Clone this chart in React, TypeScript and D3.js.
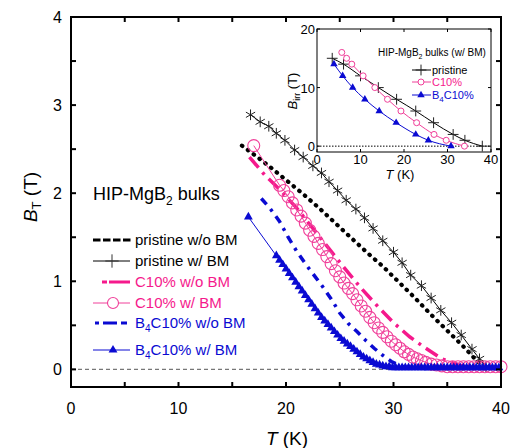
import React from 'react';
import * as d3 from 'd3';

// main panel: B_T vs T, [T (K), B (T)]
const pristineNoBM: [number, number][] = [
  [15.9, 2.54], [17.0, 2.44], [18.5, 2.3], [20.0, 2.15], [21.5, 2.0], [23.0, 1.84],
  [24.5, 1.67], [26.0, 1.5], [27.5, 1.33], [29.0, 1.17], [30.5, 0.99], [32.0, 0.81],
  [33.5, 0.62], [35.0, 0.44], [36.5, 0.26], [37.5, 0.13], [38.3, 0.04], [39.0, 0.0],
];
const pristineBM: [number, number][] = [
  [16.7, 2.89], [17.6, 2.81], [18.4, 2.76], [19.1, 2.68], [19.9, 2.6], [20.8, 2.49],
  [21.6, 2.41], [22.5, 2.31], [23.3, 2.23], [24.0, 2.13], [24.8, 2.03], [25.6, 1.92],
  [26.5, 1.82], [27.3, 1.72], [28.1, 1.6], [29.0, 1.46], [30.0, 1.33], [30.8, 1.21],
  [31.6, 1.07], [32.6, 0.95], [33.5, 0.81], [34.4, 0.67], [35.4, 0.53], [36.3, 0.39],
  [37.3, 0.23], [38.0, 0.12], [38.6, 0.03],
];
const c10NoBM: [number, number][] = [
  [16.6, 2.41], [18.0, 2.21], [19.5, 2.03], [21.0, 1.83], [22.5, 1.6], [24.0, 1.37],
  [25.5, 1.14], [27.0, 0.92], [28.5, 0.72], [30.0, 0.53], [31.5, 0.37], [33.0, 0.24],
  [34.5, 0.12], [36.0, 0.05], [37.5, 0.02], [40.0, 0.01],
];
const c10BM: [number, number][] = [
  [17.0, 2.54], [19.4, 2.09], [19.8, 2.03], [20.2, 1.96], [20.6, 1.89], [21.0, 1.81],
  [21.4, 1.74], [21.8, 1.66], [22.2, 1.58], [22.6, 1.51], [23.0, 1.43], [23.4, 1.36],
  [23.8, 1.28], [24.2, 1.2], [24.6, 1.12], [25.0, 1.05], [25.4, 0.98], [25.8, 0.92],
  [26.2, 0.86], [26.6, 0.79], [27.0, 0.72], [27.4, 0.66], [27.8, 0.59], [28.2, 0.53],
  [28.6, 0.47], [29.0, 0.42], [29.4, 0.37], [29.8, 0.32], [30.2, 0.28], [30.6, 0.24],
  [31.0, 0.2], [31.4, 0.17], [31.8, 0.14], [32.2, 0.12], [32.6, 0.1], [33.0, 0.08],
  [33.5, 0.06], [34.0, 0.05], [34.5, 0.04], [35.0, 0.03], [35.5, 0.03], [36.0, 0.03],
  [36.5, 0.03], [37.0, 0.03], [37.5, 0.03], [38.0, 0.03], [38.5, 0.03], [39.0, 0.03],
  [39.5, 0.03], [40.0, 0.03],
];
const b4cNoBM: [number, number][] = [
  [17.7, 1.94], [18.5, 1.83], [19.4, 1.68], [20.2, 1.5], [21.0, 1.34], [21.8, 1.2],
  [22.6, 1.07], [23.4, 0.94], [24.2, 0.8], [25.0, 0.64], [25.8, 0.52], [26.6, 0.43],
  [27.4, 0.33], [28.2, 0.24], [29.0, 0.16], [29.8, 0.09], [30.6, 0.04], [31.4, 0.02],
  [32.5, 0.01], [40.0, 0.01],
];
const b4cBM: [number, number][] = [
  [16.5, 1.73], [19.1, 1.29], [19.4, 1.24], [19.7, 1.19], [20.0, 1.14], [20.3, 1.09],
  [20.6, 1.04], [20.9, 0.99], [21.2, 0.94], [21.5, 0.89], [21.8, 0.84], [22.1, 0.79],
  [22.4, 0.74], [22.7, 0.69], [23.0, 0.64], [23.3, 0.59], [23.6, 0.55], [23.9, 0.51],
  [24.2, 0.47], [24.5, 0.43], [24.8, 0.39], [25.1, 0.35], [25.4, 0.32], [25.7, 0.29],
  [26.0, 0.26], [26.3, 0.23], [26.6, 0.2], [26.9, 0.17], [27.2, 0.14], [27.5, 0.12],
  [27.8, 0.1], [28.1, 0.08], [28.4, 0.06], [28.7, 0.05], [29.0, 0.04], [29.3, 0.03],
  [29.6, 0.03], [29.9, 0.02], [30.2, 0.02], [30.5, 0.02], [30.8, 0.02], [31.1, 0.02],
  [31.4, 0.02], [31.7, 0.02], [32.0, 0.02], [32.3, 0.02], [32.6, 0.02], [32.9, 0.02],
  [33.2, 0.02], [33.5, 0.02], [33.8, 0.02], [34.1, 0.02], [34.4, 0.02], [34.7, 0.02],
  [35.0, 0.02], [35.3, 0.02], [35.6, 0.02], [35.9, 0.02], [36.2, 0.02], [36.5, 0.02],
  [36.8, 0.02], [37.1, 0.02], [37.4, 0.02], [37.7, 0.02], [38.0, 0.02], [38.3, 0.02],
  [38.6, 0.02], [38.9, 0.02], [39.2, 0.02], [39.5, 0.02], [39.8, 0.02],
];

// inset: B_irr vs T
const insetPristine: [number, number][] = [
  [3.5, 15], [6.1, 14], [10, 12], [14.1, 10], [18.3, 8], [22.7, 6], [26.8, 4], [31.3, 2], [34, 1], [38, 0],
];
const insetC10: [number, number][] = [
  [5.7, 16], [6.8, 15], [8, 14], [10.6, 12], [13.3, 10], [16.2, 8], [19.3, 6], [22.9, 4], [26.9, 2], [29.7, 1], [33.9, 0],
];
const insetB4C: [number, number][] = [
  [3.9, 14], [5.9, 12], [8.2, 10], [11, 8], [14.3, 6], [18.2, 4], [22.7, 2], [25.6, 1], [30.8, 0],
];

const xTicks = [0, 10, 20, 30, 40];
const xMinor = [5, 15, 25, 35];
const yTicks = [0, 1, 2, 3, 4];
const yMinor = [0.5, 1.5, 2.5, 3.5];
const insetXTicks = [0, 10, 20, 30, 40];
const insetYTicks = [0, 10, 20];

const PINK = '#f5198c';
const PINK_LIGHT = '#f0409a';
const BLUE = '#0a0ad2';
const FONT = 'Liberation Sans, Arial, sans-serif';

const x = d3.scaleLinear().domain([0, 40]).range([71, 501]);
const y = d3.scaleLinear().domain([-0.2, 4]).range([387, 17]);
const ix = d3.scaleLinear().domain([0, 40]).range([317, 491]);
const iy = d3.scaleLinear().domain([-1, 20]).range([152, 29]);

const line = d3.line<[number, number]>().x((d) => x(d[0])).y((d) => y(d[1]));
const iline = d3
  .line<[number, number]>()
  .x((d) => ix(d[0]))
  .y((d) => iy(d[1]))
  .curve(d3.curveMonotoneX);

const asterisk = d3.symbol().type(d3.symbolAsterisk).size(80)();
const plus = d3.symbol().type(d3.symbolPlus).size(60)();
const smallPlus = d3.symbol().type(d3.symbolPlus).size(40)();
const tri = d3.symbol().type(d3.symbolTriangle).size(34)();
const smallTri = d3.symbol().type(d3.symbolTriangle).size(24)();

export default function App() {
  const legend = [
    { label: 'pristine w/o BM', color: '#000', y: 240 },
    { label: 'pristine w/ BM', color: '#000', y: 261 },
    { label: 'C10% w/o BM', color: PINK, y: 282 },
    { label: 'C10% w/ BM', color: PINK, y: 303 },
    { label: 'B4C10% w/o BM', color: BLUE, y: 323 },
    { label: 'B4C10% w/ BM', color: BLUE, y: 350 },
  ];

  return (
    <svg
      width={513}
      height={448}
      style={{ position: 'absolute', left: 0, top: 0, background: '#fff' }}
      fontFamily={FONT}
    >
      <rect width={513} height={448} fill="#fff" />

      {/* zero line */}
      <line x1={x(0)} x2={x(40)} y1={y(0)} y2={y(0)} stroke="#777" strokeWidth={1.2} strokeDasharray="4 3" />

      {/* series w/o BM */}
      <path d={line(pristineNoBM)!} fill="none" stroke="#000" strokeWidth={4.2} strokeLinecap="round" strokeDasharray="0.5 6.8" />
      <path d={line(c10NoBM)!} fill="none" stroke={PINK} strokeWidth={3.5} strokeDasharray="14 6 3 6" />
      <path d={line(b4cNoBM)!} fill="none" stroke={BLUE} strokeWidth={3.5} strokeDasharray="8 6 3 6" />

      {/* pristine w/ BM */}
      <path d={line(pristineBM)!} fill="none" stroke="#000" strokeWidth={1} />
      {pristineBM.map((d, i) => (
        <path key={i} d={asterisk!} transform={`translate(${x(d[0])},${y(d[1])})`} fill="none" stroke="#222" strokeWidth={1} />
      ))}

      {/* C10% w/ BM */}
      <path d={line(c10BM)!} fill="none" stroke={PINK_LIGHT} strokeWidth={1} />
      {c10BM.map((d, i) => (
        <circle key={i} cx={x(d[0])} cy={y(d[1])} r={6} fill="none" stroke={PINK_LIGHT} strokeWidth={1.1} />
      ))}

      {/* B4C10% w/ BM */}
      <path d={line(b4cBM)!} fill="none" stroke={BLUE} strokeWidth={1} />
      {b4cBM.map((d, i) => (
        <path key={i} d={tri!} transform={`translate(${x(d[0])},${y(d[1])})`} fill={BLUE} />
      ))}

      {/* frame */}
      <rect x={x(0)} y={y(4)} width={x(40) - x(0)} height={y(-0.2) - y(4)} fill="none" stroke="#000" strokeWidth={2} />

      {/* ticks */}
      {[...xTicks, ...xMinor].map((t) => (
        <g key={'x' + t}>
          <line x1={x(t)} x2={x(t)} y1={y(-0.2)} y2={y(-0.2) - 5} stroke="#000" strokeWidth={2} />
          <line x1={x(t)} x2={x(t)} y1={y(4)} y2={y(4) + 5} stroke="#000" strokeWidth={2} />
        </g>
      ))}
      {[...yTicks, ...yMinor].map((t) => (
        <g key={'y' + t}>
          <line x1={x(0)} x2={x(0) + 5} y1={y(t)} y2={y(t)} stroke="#000" strokeWidth={2} />
          <line x1={x(40)} x2={x(40) - 5} y1={y(t)} y2={y(t)} stroke="#000" strokeWidth={2} />
        </g>
      ))}
      {xTicks.map((t) => (
        <text key={'xl' + t} x={x(t)} y={414} fontSize={16} textAnchor="middle">
          {t}
        </text>
      ))}
      {yTicks.map((t) => (
        <text key={'yl' + t} x={62} y={y(t) + 6} fontSize={16} textAnchor="end">
          {t}
        </text>
      ))}

      {/* axis titles */}
      <text x={287} y={445} fontSize={19} textAnchor="middle">
        <tspan fontStyle="italic">T</tspan> (K)
      </text>
      <text transform="translate(37,197) rotate(-90)" fontSize={19} textAnchor="middle">
        <tspan fontStyle="italic">B</tspan>
        <tspan fontSize={13} dy={4}>T</tspan>
        <tspan dy={-4}> (T)</tspan>
      </text>

      {/* main legend */}
      <text x={93} y={200} fontSize={18}>
        HIP-MgB<tspan fontSize={12} dy={5}>2</tspan>
        <tspan dy={-5}> bulks</tspan>
      </text>
      <line x1={93} x2={131} y1={240} y2={240} stroke="#000" strokeWidth={3} strokeDasharray="7.5 2.5" />
      <line x1={93} x2={130} y1={261} y2={261} stroke="#000" strokeWidth={1} />
      <path d={plus!} transform="translate(112,261)" fill="none" stroke="#333" strokeWidth={1} />
      <line x1={102} x2={130} y1={282} y2={282} stroke={PINK} strokeWidth={3} strokeDasharray="5 2 22" />
      <line x1={93} x2={130} y1={303} y2={303} stroke={PINK_LIGHT} strokeWidth={1} />
      <circle cx={113} cy={303} r={5.5} fill="#fff" stroke={PINK_LIGHT} strokeWidth={1.1} />
      <line x1={95} x2={127} y1={323} y2={323} stroke={BLUE} strokeWidth={3} strokeDasharray="4 4 14 4 6" />
      <line x1={93} x2={130} y1={350} y2={350} stroke={BLUE} strokeWidth={1} />
      <path d={tri!} transform="translate(113,350)" fill={BLUE} />
      {legend.map((l) => (
        <text key={l.label} x={135} y={l.y + 5} fontSize={15} fill={l.color}>
          {l.label.startsWith('B4') ? (
            <>
              B<tspan fontSize={10} dy={4}>4</tspan>
              <tspan dy={-4}>{l.label.slice(2)}</tspan>
            </>
          ) : (
            l.label
          )}
        </text>
      ))}

      {/* inset */}
      <rect x={ix(0)} y={iy(20)} width={ix(40) - ix(0)} height={iy(-1) - iy(20)} fill="#fff" stroke="#000" strokeWidth={1} />
      <line x1={ix(0)} x2={ix(40)} y1={iy(0)} y2={iy(0)} stroke="#000" strokeWidth={1} strokeDasharray="1.5 1.5" />
      {insetXTicks.map((t) => (
        <g key={'ix' + t}>
          <line x1={ix(t)} x2={ix(t)} y1={iy(-1)} y2={iy(-1) - 3} stroke="#000" />
          <line x1={ix(t)} x2={ix(t)} y1={iy(20)} y2={iy(20) + 3} stroke="#000" />
          <text x={ix(t)} y={iy(-1) + 12} fontSize={13} textAnchor="middle">
            {t}
          </text>
        </g>
      ))}
      {insetYTicks.map((t) => (
        <g key={'iy' + t}>
          <line x1={ix(0)} x2={ix(0) + 3} y1={iy(t)} y2={iy(t)} stroke="#000" />
          <line x1={ix(40)} x2={ix(40) - 3} y1={iy(t)} y2={iy(t)} stroke="#000" />
          <text x={ix(0) - 2} y={iy(t) + 5} fontSize={13} textAnchor="end">
            {t}
          </text>
        </g>
      ))}
      <text x={400} y={179} fontSize={13} textAnchor="middle">
        <tspan fontStyle="italic">T</tspan> (K)
      </text>
      <text transform="translate(297,91) rotate(-90)" fontSize={13} textAnchor="middle">
        <tspan fontStyle="italic">B</tspan>
        <tspan fontSize={9} dy={3}>irr</tspan>
        <tspan dy={-3}> (T)</tspan>
      </text>
      <text x={378} y={56} fontSize={10}>
        HIP-MgB<tspan fontSize={7} dy={3}>2</tspan>
        <tspan dy={-3}> bulks (w/ BM)</tspan>
      </text>

      <path d={iline(insetPristine)!} fill="none" stroke="#000" strokeWidth={1} />
      {insetPristine.map((d, i) => (
        <path key={i} d={smallPlus!} transform={`translate(${ix(d[0])},${iy(d[1])})`} fill="none" stroke="#222" strokeWidth={1} />
      ))}
      <path d={iline(insetC10)!} fill="none" stroke={PINK_LIGHT} strokeWidth={1} />
      {insetC10.map((d, i) => (
        <circle key={i} cx={ix(d[0])} cy={iy(d[1])} r={3} fill="#fff" stroke={PINK_LIGHT} strokeWidth={1} />
      ))}
      <path d={iline(insetB4C)!} fill="none" stroke={BLUE} strokeWidth={1} />
      {insetB4C.map((d, i) => (
        <path key={i} d={smallTri!} transform={`translate(${ix(d[0])},${iy(d[1])})`} fill={BLUE} />
      ))}

      {/* inset legend */}
      <line x1={412} x2={431} y1={70} y2={70} stroke="#000" />
      <path d={smallPlus!} transform="translate(421,70)" fill="none" stroke="#222" />
      <text x={432} y={74} fontSize={11}>pristine</text>
      <line x1={412} x2={431} y1={82} y2={82} stroke={PINK_LIGHT} />
      <circle cx={421} cy={82} r={3} fill="#fff" stroke={PINK_LIGHT} />
      <text x={432} y={86} fontSize={11} fill={PINK}>C10%</text>
      <line x1={412} x2={431} y1={95} y2={95} stroke={BLUE} />
      <path d={smallTri!} transform="translate(421,95)" fill={BLUE} />
      <text x={432} y={99} fontSize={11} fill={BLUE}>
        B<tspan fontSize={8} dy={3}>4</tspan>
        <tspan dy={-3}>C10%</tspan>
      </text>
    </svg>
  );
}
